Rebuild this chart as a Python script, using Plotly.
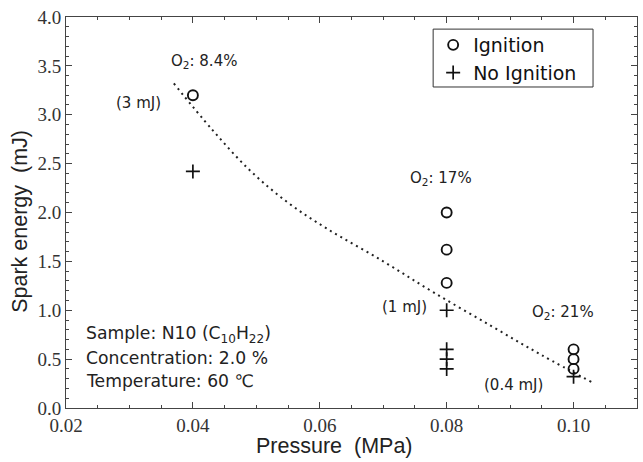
import plotly.graph_objects as go

# Ignition / no-ignition results (pressure in MPa, spark energy in mJ)
ign_p = [0.04, 0.08, 0.08, 0.08, 0.10, 0.10, 0.10]
ign_e = [3.2, 2.0, 1.62, 1.28, 0.6, 0.5, 0.4]
noign_p = [0.04, 0.08, 0.08, 0.08, 0.08, 0.10]
noign_e = [2.42, 1.0, 0.6, 0.5, 0.4, 0.32]

# Minimum ignition energy trend (dotted guide curve)
trend_p = [0.037, 0.043, 0.049, 0.055, 0.061, 0.070, 0.078, 0.087, 0.095, 0.103]
trend_e = [3.32, 2.85, 2.43, 2.10, 1.84, 1.50, 1.18, 0.84, 0.54, 0.26]

x_ticks = [0.02, 0.04, 0.06, 0.08, 0.10]
x_labels = ["0.02", "0.04", "0.06", "0.08", "0.10"]
y_ticks = [0.0, 0.5, 1.0, 1.5, 2.0, 2.5, 3.0, 3.5, 4.0]
y_labels = ["0.0", "0.5", "1.0", "1.5", "2.0", "2.5", "3.0", "3.5", "4.0"]

ANN_FONT = "DejaVu Sans, sans-serif"
SERIF = "Liberation Serif"
SANS = "Liberation Sans, Arial, sans-serif"
NB = "\u00a0"

fig = go.Figure()
fig.add_trace(go.Scatter(
    x=trend_p, y=trend_e, mode="lines", line_shape="spline",
    line=dict(color="#222", width=2, dash="2px,4px"), showlegend=False,
    hoverinfo="skip"))
fig.add_trace(go.Scatter(
    x=ign_p, y=ign_e, mode="markers", name="Ignition",
    marker=dict(symbol="circle-open", size=10, color="#111",
                line=dict(width=1.9, color="#111"))))
fig.add_trace(go.Scatter(
    x=noign_p, y=noign_e, mode="markers", name="No Ignition",
    marker=dict(symbol="cross-thin-open", size=10, color="#111",
                line=dict(width=1.7, color="#111"))))

notes = [
    ("O<sub>2</sub>: 8.4%", 0.0418, 3.54),
    ("(3 mJ)", 0.0315, 3.12),
    ("O<sub>2</sub>: 17%", 0.0791, 2.35),
    ("(1 mJ)", 0.0733, 1.03),
    ("O<sub>2</sub>: 21%", 0.0983, 0.98),
    ("(0.4 mJ)", 0.0906, 0.235),
]
for txt, x, y in notes:
    fig.add_annotation(x=x, y=y, text=txt, showarrow=False,
                       font=dict(family=ANN_FONT, size=15, color="#222"))

conditions = [
    ("Sample: N10 (C<sub>10</sub>H<sub>22</sub>)", 0.75),
    ("Concentration: 2.0 %", 0.51),
    ("Temperature: 60 \u2103", 0.28),
]
for txt, y in conditions:
    fig.add_annotation(x=0.0228, y=y, text=txt, showarrow=False,
                       xanchor="left",
                       font=dict(family=ANN_FONT, size=17.2, color="#222"))

# Axis titles placed as paper annotations
fig.add_annotation(xref="paper", yref="paper", x=0.471, y=-0.098,
                   xanchor="center", yanchor="middle", showarrow=False,
                   text="Pressure" + NB + NB + "(MPa)",
                   font=dict(family=SANS, size=21.5, color="#222"))
fig.add_annotation(xref="paper", yref="paper", x=-0.081, y=0.478,
                   xanchor="center", yanchor="middle", showarrow=False,
                   textangle=-90, text="Spark energy" + NB + NB + "(mJ)",
                   font=dict(family=SANS, size=21.5, color="#222"))

# Legend frame
fig.add_shape(type="rect", xref="paper", yref="paper",
              x0=0.643, x1=0.923, y0=0.821, y1=0.969,
              line=dict(color="#333", width=1), fillcolor="white", layer="below")

axis_common = dict(
    showline=True, linecolor="#444", linewidth=1, mirror="allticks",
    ticks="inside", ticklen=6, tickcolor="#444", showgrid=False,
    zeroline=False,
    tickfont=dict(family=SERIF, size=19, color="#333"),
)

fig.update_xaxes(
    range=[0.02, 0.11], tickvals=x_ticks, ticktext=x_labels,
    minor=dict(dtick=0.005, tick0=0.02, ticks="inside", ticklen=3,
               tickcolor="#444", showgrid=False),
    **axis_common)
fig.update_yaxes(
    range=[0.0, 4.0], tickvals=y_ticks, ticktext=y_labels,
    minor=dict(dtick=0.1, tick0=0, ticks="inside", ticklen=3,
               tickcolor="#444", showgrid=False),
    **axis_common)

fig.update_layout(
    width=643, height=462,
    margin=dict(l=66, r=6, t=17, b=54),
    paper_bgcolor="white", plot_bgcolor="white",
    legend=dict(x=0.643, y=0.977, xanchor="left", yanchor="top",
                borderwidth=0, bgcolor="rgba(0,0,0,0)",
                itemwidth=30, tracegroupgap=0,
                font=dict(family=ANN_FONT, size=19, color="#111")),
)

fig.write_html("out.html")
